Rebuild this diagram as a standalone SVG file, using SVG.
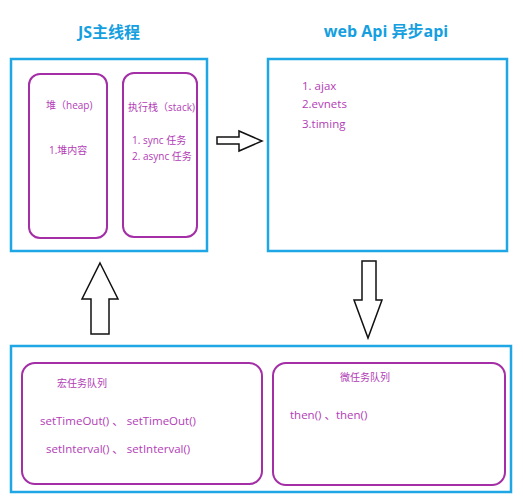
<svg xmlns="http://www.w3.org/2000/svg" width="523" height="501" viewBox="0 0 523 501">
<style>
.outer{fill:none;stroke:#1ea7e4;stroke-width:2.5}
.inner{fill:none;stroke:#a42ea6;stroke-width:2}
.title{font-family:"Open Sans","Noto Sans CJK SC",sans-serif;font-weight:bold;font-size:16px;fill:#14a0e0;text-anchor:middle}
.t{font-family:"Open Sans","Noto Sans CJK SC",sans-serif;font-size:10px;fill:#b23cb6}
.t2{font-family:"Open Sans","Noto Sans CJK SC",sans-serif;font-size:11.5px;fill:#b23cb6}
.arrow{fill:#fff;stroke:#111;stroke-width:1.5;stroke-linejoin:miter}
</style>
<rect width="523" height="501" fill="#fff"/>
<g id="main-thread">
<text class="title" x="109" y="38">JS主线程</text>
<rect class="outer" x="11" y="59" width="196" height="192"/>
</g>
<g id="heap">
<rect class="inner" x="29" y="74" width="78" height="164" rx="11"/>
<text class="t" x="46" y="109">堆（heap)</text>
<text class="t" x="49" y="154">1.堆内容</text>
</g>
<g id="stack">
<rect class="inner" x="123" y="73" width="74" height="164" rx="11"/>
<text class="t" x="128" y="111">执行栈（stack)</text>
<text class="t" x="132" y="144">1. sync 任务</text>
<text class="t" x="132" y="160">2. async 任务</text>
</g>
<g id="web-api">
<text class="title" x="386" y="37">web Api 异步api</text>
<rect class="outer" x="268" y="59" width="239" height="192"/>
<text class="t2" x="302" y="90">1. ajax</text>
<text class="t2" x="302" y="108">2.evnets</text>
<text class="t2" x="302" y="128">3.timing</text>
</g>
<g id="queues">
<rect class="outer" x="11" y="346" width="500" height="146"/>
</g>
<g id="macro-queue">
<rect class="inner" x="22" y="363" width="240" height="121" rx="13"/>
<text class="t" x="57" y="387">宏任务队列</text>
<text class="t2" x="40" y="425">setTimeOut() 、 setTimeOut()</text>
<text class="t2" x="46" y="453">setInterval() 、 setInterval()</text>
</g>
<g id="micro-queue">
<rect class="inner" x="273" y="363" width="232" height="122" rx="13"/>
<text class="t" x="340" y="381">微任务队列</text>
<text class="t2" x="290" y="419">then() 、then()</text>
</g>
<g id="connectors">
<polygon class="arrow" points="217,137 239,137 239,131 262,141 239,151 239,144 217,144"/>
<polygon class="arrow" points="100,263 118,299 109,299 109,334 91,334 91,299 82,299"/>
<polygon class="arrow" points="362,261 376,261 376,300 382,300 368,338 354,300 362,300"/>
</g>
</svg>
